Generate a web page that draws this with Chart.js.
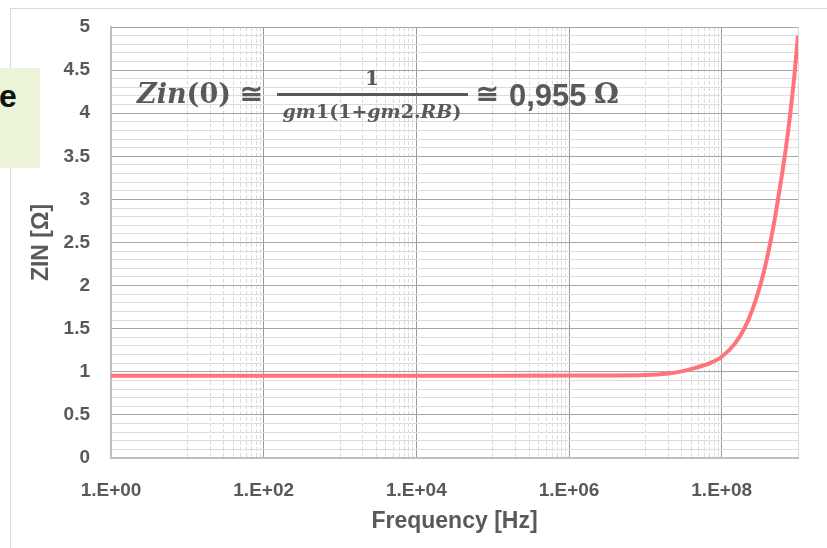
<!DOCTYPE html>
<html lang="en">
<head>
    <meta charset="UTF-8">
    <script src="https://cdn.jsdelivr.net/npm/chart.js"></script>
    <title>Zin</title>
    <style>
        html, body { margin: 0; padding: 0; background: #fff; overflow: hidden; }
        body { width: 827px; height: 548px; position: relative; }
        .frame { position: absolute; left: 10px; top: 8px; width: 900px; height: 700px; border: 1px solid #d9d9d9; }
        #wrap { position: absolute; left: 0; top: 0; width: 827px; height: 548px; }
        .slidebox { position: absolute; left: 0; top: 68px; width: 40px; height: 100px; background: #ebf4d6; overflow: hidden; }
        .slidebox span { position: absolute; left: -1px; top: 12px; font: bold 32px "Liberation Sans", Arial, sans-serif; color: #111; line-height: 1; }
        .f { position: absolute; color: #595959; line-height: 1; white-space: nowrap; }
        .serif { font-family: "DejaVu Serif", serif; font-weight: bold; }
        .c { transform: translateX(-50%); }
    </style>
</head>
<body>
    <div class="frame"></div>
    <div id="wrap"><canvas id="zinChart" width="827" height="548"></canvas></div>

    <!-- formula drawn over the plot -->
    <div class="f serif" style="left:137px; top:80px; font-size:27px;"><i>Zin</i>(0) ≅</div>
    <div class="f serif c" style="left:372px; top:68px; font-size:20px;">1</div>
    <div class="f" style="left:277px; top:93px; width:191px; height:3px; background:#595959;"></div>
    <div class="f serif c" style="left:372px; top:102px; font-size:19px;"><i>gm</i>1(1+<i>gm</i>2.<i>RB</i>)</div>
    <div class="f serif" style="left:476px; top:80px; font-size:27px;">≅</div>
    <div class="f" style="left:509px; top:78px; font: bold 31px 'Liberation Sans', Arial, sans-serif;">0,955</div>
    <div class="f serif" style="left:594px; top:80px; font-size:28px;">Ω</div>

    <div class="slidebox"><span>e</span></div>

    <script>
        // valores
        const freq = [1, 10, 100, 1e3, 1e4, 1e5, 1e6, 3e6, 1e7, 2e7, 3e7, 4.3e7, 7e7, 1e8,
                      1.5e8, 2e8, 2.5e8, 3e8, 3.5e8, 4e8, 4.5e8, 5e8, 6e8, 7e8, 8e8, 9e8, 1e9];
        const zin  = [0.955, 0.955, 0.955, 0.955, 0.955, 0.955, 0.956, 0.957, 0.962, 0.98, 1.005, 1.04, 1.10, 1.175,
                      1.33, 1.51, 1.71, 1.92, 2.13, 2.35, 2.57, 2.79, 3.22, 3.62, 4.03, 4.45, 4.9];

        const xMajor = [1, 1e2, 1e4, 1e6, 1e8];
        const xTickLabels = ['1.E+00', '1.E+02', '1.E+04', '1.E+06', '1.E+08'];
        const xMinorDecades = [1e1, 1e3, 1e5, 1e7];
        const yTickLabels = ['0', '0.5', '1', '1.5', '2', '2.5', '3', '3.5', '4', '4.5', '5'];

        const grey = '#595959';
        const font = 'Liberation Sans, Arial, sans-serif';

        // lista de ticks del eje x (mayores + menores en decadas impares)
        const xTicks = xMajor.slice();
        xMinorDecades.forEach(d => {
            for (let k = 1; k <= 9; k++) xTicks.push(d * k);
        });
        xTicks.push(1e9);
        xTicks.sort((a, b) => a - b);

        const isMajorX = v => xMajor.some(m => Math.abs(v / m - 1) < 1e-9);
        const isMajorY = v => Math.abs(v * 2 - Math.round(v * 2)) < 1e-6;

        const ctx = document.getElementById('zinChart').getContext('2d');
        new Chart(ctx, {
            type: 'line',
            data: {
                datasets: [{
                    label: 'ZIN',
                    data: freq.map((f, i) => ({ x: f, y: zin[i] })),
                    borderColor: '#ff7479',
                    borderWidth: 4,
                    pointRadius: 0,
                    cubicInterpolationMode: 'monotone',
                    fill: false
                }]
            },
            options: {
                responsive: false,
                animation: false,
                layout: { padding: { top: 27, right: 29, left: 0, bottom: 0 } },
                plugins: {
                    legend: { display: false },
                    tooltip: { enabled: false }
                },
                scales: {
                    x: {
                        type: 'logarithmic',
                        min: 1,
                        max: 1e9,
                        afterBuildTicks: scale => {
                            scale.ticks = xTicks.map(v => ({ value: v }));
                        },
                        afterFit: scale => {
                            scale.height = 90;
                            scale.paddingLeft = 0;
                            scale.paddingRight = 0;
                        },
                        ticks: {
                            autoSkip: false,
                            maxRotation: 0,
                            padding: 21,
                            color: grey,
                            font: { family: font, size: 19, weight: 'bold' },
                            callback: function (value) {
                                const i = xMajor.findIndex(m => Math.abs(value / m - 1) < 1e-9);
                                return i >= 0 ? xTickLabels[i] : '';
                            }
                        },
                        grid: {
                            drawTicks: false,
                            color: c => (c.tick && isMajorX(c.tick.value)) ? '#9a9a9a' : '#dcdcdc',
                            lineWidth: 1
                        },
                        border: {
                            color: '#bfbfbf',
                            width: 2,
                            dash: c => (c.tick && !isMajorX(c.tick.value) && c.tick.value < 1e9) ? [4, 2] : []
                        },
                        title: {
                            display: true,
                            text: 'Frequency [Hz]',
                            color: grey,
                            font: { family: font, size: 23, weight: 'bold' },
                            padding: { top: 0, bottom: 13 }
                        }
                    },
                    y: {
                        min: 0,
                        max: 5,
                        afterFit: scale => {
                            scale.width = 111;
                            scale.paddingTop = 0;
                            scale.paddingBottom = 0;
                        },
                        ticks: {
                            stepSize: 0.1,
                            autoSkip: false,
                            padding: 21,
                            color: grey,
                            font: { family: font, size: 19, weight: 'bold' },
                            callback: function (value) {
                                return isMajorY(value) ? yTickLabels[Math.round(value * 2)] : '';
                            }
                        },
                        grid: {
                            drawTicks: false,
                            color: c => (c.tick && isMajorY(c.tick.value)) ? '#a6a6a6' : '#dcdcdc',
                            lineWidth: 1
                        },
                        border: { color: '#bfbfbf', width: 2 },
                        title: {
                            display: true,
                            text: 'ZIN [Ω]',
                            color: grey,
                            font: { family: font, size: 23, weight: 'bold' },
                            padding: { top: 28, bottom: 0 }
                        }
                    }
                }
            }
        });
    </script>
</body>
</html>
